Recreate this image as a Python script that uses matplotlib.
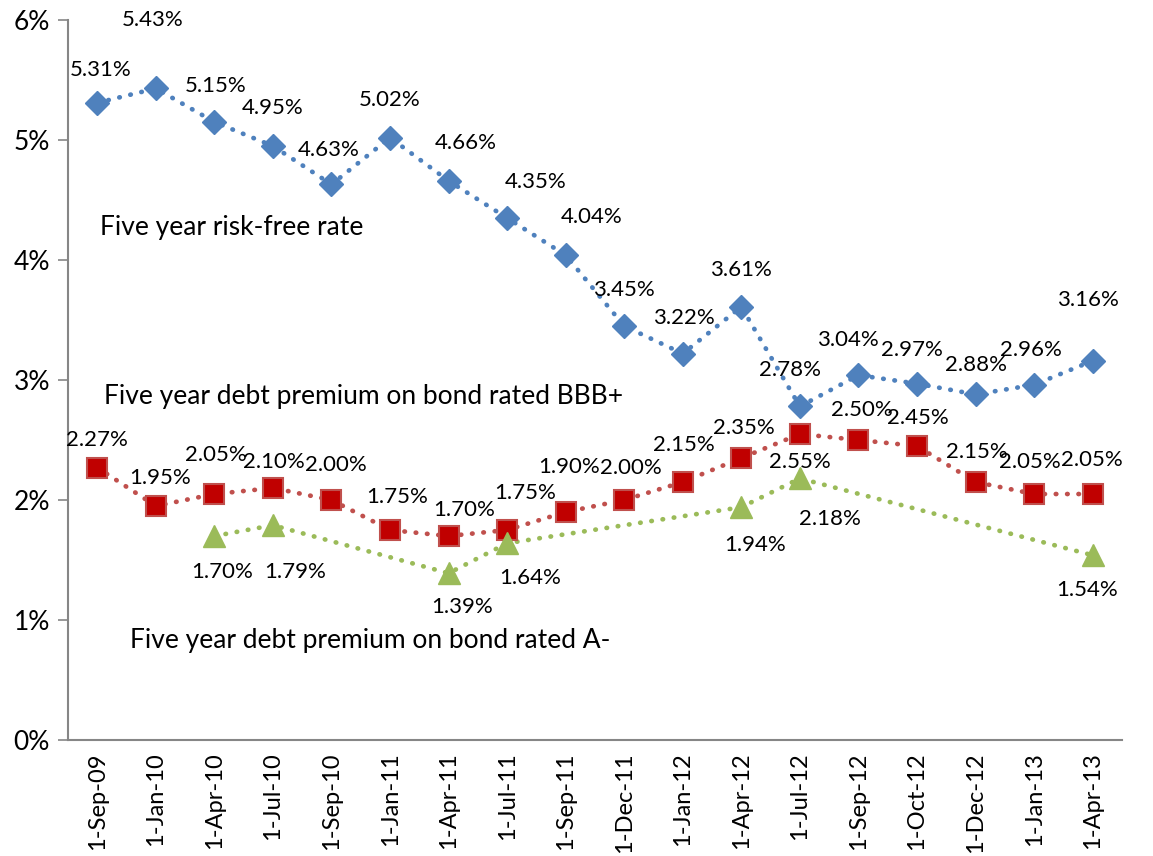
import matplotlib
matplotlib.use("Agg")
import matplotlib.pyplot as plt
import numpy as np

plt.rcParams['font.family'] = ['Lato', 'DejaVu Sans']

dates = ["1-Sep-09", "1-Jan-10", "1-Apr-10", "1-Jul-10", "1-Sep-10", "1-Jan-11",
         "1-Apr-11", "1-Jul-11", "1-Sep-11", "1-Dec-11", "1-Jan-12", "1-Apr-12",
         "1-Jul-12", "1-Sep-12", "1-Oct-12", "1-Dec-12", "1-Jan-13", "1-Apr-13"]
risk_free = [5.31, 5.43, 5.15, 4.95, 4.63, 5.02, 4.66, 4.35, 4.04, 3.45, 3.22, 3.61,
             2.78, 3.04, 2.97, 2.88, 2.96, 3.16]
bbb_plus = [2.27, 1.95, 2.05, 2.10, 2.00, 1.75, 1.70, 1.75, 1.90, 2.00, 2.15, 2.35,
            2.55, 2.50, 2.45, 2.15, 2.05, 2.05]
# A- only reported on some dates
a_minus_idx = [2, 3, 6, 7, 11, 12, 17]
a_minus = [1.70, 1.79, 1.39, 1.64, 1.94, 2.18, 1.54]

yticks = [0, 1, 2, 3, 4, 5, 6]
ytick_labels = ["0%", "1%", "2%", "3%", "4%", "5%", "6%"]

# label offsets in pixels (dx, dy)
off_rf = [(3, 33), (-3, 68), (1, 36), (0, 38), (-3, 34), (0, 38), (17, 38), (29, 36),
          (26, 38), (0, 36), (1, 36), (0, 37), (-10, 36), (-11, 35), (-5, 34), (0, 29),
          (-3, 35), (-5, 61)]
off_bbb = [(0, 28), (4, 28), (1, 39), (1, 26), (4, 35), (7, 33), (16, 26), (18, 37),
           (3, 45), (7, 32), (1, 37), (3, 30), (0, -28), (3, 30), (1, 28), (1, 30),
           (-4, 32), (-1, 34)]
off_a = [(8, -36), (22, -47), (13, -34), (23, -35), (14, -38), (30, -41), (-6, -35)]

blue = "#4F81BD"
red_line = "#C0504D"
red_mark = "#C00000"
green = "#9BBB59"

fig = plt.figure(figsize=(11.53, 8.56), dpi=100)
ax = fig.add_axes([0.059, 0.1355, 0.914, 0.8411])

x = np.arange(len(dates))
dot = (0, (0.1, 2.3))
fs = 16      # data labels
fs_txt = 19  # series notes
fs_tick = 17

ax.plot(x, risk_free, color=blue, lw=3.4, linestyle=dot, dash_capstyle='round', zorder=2)
ax.plot(x, risk_free, 'D', color=blue, ms=12, mec=blue, zorder=3)

ax.plot(x, bbb_plus, color=red_line, lw=3.4, linestyle=dot, dash_capstyle='round', zorder=2)
ax.plot(x, bbb_plus, 's', color=red_mark, ms=15, mec=red_line, mew=1.5, zorder=3)

ax.plot(a_minus_idx, a_minus, color=green, lw=3.4, linestyle=dot, dash_capstyle='round', zorder=2)
ax.plot(a_minus_idx, a_minus, '^', color=green, ms=16, mec=green, zorder=3)

for i, v in enumerate(risk_free):
    ax.annotate(f"{v:.2f}%", (i, v), xytext=off_rf[i], textcoords='offset pixels',
                ha='center', va='center', fontsize=fs, zorder=5)
for i, v in enumerate(bbb_plus):
    ax.annotate(f"{v:.2f}%", (i, v), xytext=off_bbb[i], textcoords='offset pixels',
                ha='center', va='center', fontsize=fs, zorder=5)
for k, (i, v) in enumerate(zip(a_minus_idx, a_minus)):
    ax.annotate(f"{v:.2f}%", (i, v), xytext=off_a[k], textcoords='offset pixels',
                ha='center', va='center', fontsize=fs, zorder=5)

ax.text(0.05, 4.275, "Five year risk-free rate", fontsize=fs_txt, va='center', ha='left')
ax.text(0.12, 2.86, "Five year debt premium on bond rated BBB+", fontsize=fs_txt, va='center', ha='left')
ax.text(0.56, 0.83, "Five year debt premium on bond rated A-", fontsize=fs_txt, va='center', ha='left')

ax.set_xlim(-0.5, len(dates) - 0.5)
ax.set_ylim(0, 6)
ax.set_yticks(yticks)
ax.set_yticklabels(ytick_labels, fontsize=fs_tick + 2)
ax.set_xticks(x)
ax.set_xticklabels(dates, rotation=90, fontsize=fs_tick)
ax.tick_params(axis='x', length=0, pad=9)
ax.tick_params(axis='y', length=7, width=1.2, color='#868686', pad=6)

for s in ['top', 'right']:
    ax.spines[s].set_visible(False)
for s in ['left', 'bottom']:
    ax.spines[s].set_color('#868686')
    ax.spines[s].set_linewidth(1.5)

fig.savefig("out.png", dpi=100)
